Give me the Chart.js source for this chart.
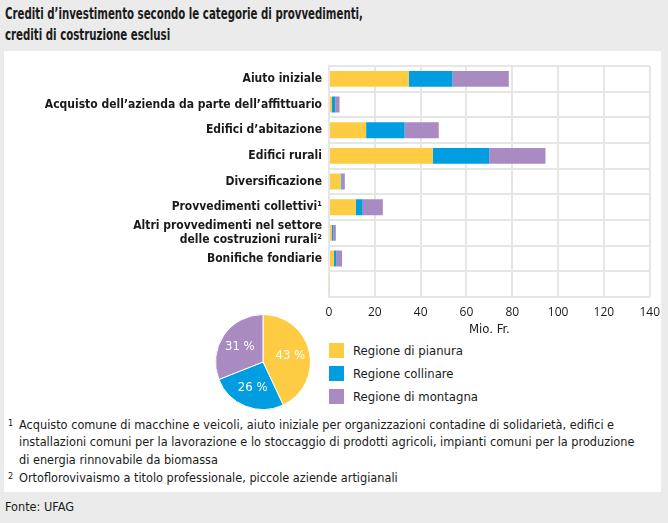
<!DOCTYPE html>
<html>
<head>
<meta charset="utf-8">
<script src="https://cdn.jsdelivr.net/npm/chart.js@4"></script>
<style>
  html, body { margin: 0; padding: 0; }
  body { width: 668px; height: 523px; background: #ebebeb; position: relative; overflow: hidden;
         font-family: "DejaVu Sans Condensed", "Liberation Sans Narrow", sans-serif; color: #1a1a1a; }
  #title { position: absolute; left: 5px; top: 3px; font-size: 16px; font-weight: bold; line-height: 21px;
           transform: scaleX(0.71); transform-origin: left top; white-space: nowrap; }
  #panel { position: absolute; left: 4px; top: 51px; width: 657px; height: 441px; background: #fff; }
  #bars { position: absolute; left: 0; top: 52px; }
  #pie { position: absolute; left: 215px; top: 314px; }
  .leg { position: absolute; left: 329px; font-size: 13px; line-height: 15px; white-space: nowrap; }
  .leg span { display: inline-block; width: 15px; height: 15px; vertical-align: top; margin-right: 9px; }
  #notes { position: absolute; left: 8px; top: 415px; width: 650px; font-size: 12.6px; line-height: 17.3px; }
  #notes div { padding-left: 11px; text-indent: -11px; }
  #notes sup { font-size: 9px; vertical-align: 3px; display: inline-block; width: 11px; text-indent: 0; }
  #source { position: absolute; left: 5px; top: 499px; font-size: 12.6px; }
</style>
</head>
<body>
<div id="title">Crediti d’investimento secondo le categorie di provvedimenti,<br>crediti di costruzione esclusi</div>
<div id="panel"></div>
<canvas id="bars" width="668" height="290"></canvas>
<canvas id="pie" width="96" height="96"></canvas>
<div class="leg" style="top:343px"><span style="background:#fdcc43"></span>Regione di pianura</div>
<div class="leg" style="top:366px"><span style="background:#009ee0"></span>Regione collinare</div>
<div class="leg" style="top:389px"><span style="background:#a98bc1"></span>Regione di montagna</div>
<div id="notes">
  <div><sup>1</sup>Acquisto comune di macchine e veicoli, aiuto iniziale per organizzazioni contadine di solidarietà, edifici e<br>installazioni comuni per la lavorazione e lo stoccaggio di prodotti agricoli, impianti comuni per la produzione<br>di energia rinnovabile da biomassa</div>
  <div><sup>2</sup>Ortoflorovivaismo a titolo professionale, piccole aziende artigianali</div>
</div>
<div id="source">Fonte: UFAG</div>
<script>
const categories = [
  "Aiuto iniziale",
  "Acquisto dell’azienda da parte dell’affittuario",
  "Edifici d’abitazione",
  "Edifici rurali",
  "Diversificazione",
  "Provvedimenti collettivi¹",
  ["Altri provvedimenti nel settore", "delle costruzioni rurali²"],
  "Bonifiche fondiarie",
  ""
];
const pianura  = [34.8, 1.3, 16.2, 45.3, 5.1, 11.7, 1.2, 2.2, 0.3];
const collinare = [19.1, 1.4, 16.8, 24.6, 0.4, 3.0, 0.6, 0.9, 0];
const montagna = [24.6, 1.9, 14.9, 24.6, 1.4, 8.8, 1.2, 2.6, 0];
const xTicks = [0, 20, 40, 60, 80, 100, 120, 140];

const regions = ["Regione di pianura", "Regione collinare", "Regione di montagna"];
const pieShares = [43, 26, 31];
const colors = ["#fdcc43", "#009ee0", "#a98bc1"];

const NARROW = "'DejaVu Sans Condensed', 'Liberation Sans Narrow', sans-serif";
Chart.defaults.color = "#1a1a1a";

new Chart(document.getElementById("bars"), {
  type: "bar",
  data: {
    labels: categories,
    datasets: [
      { label: regions[0], data: pianura, backgroundColor: colors[0] },
      { label: regions[1], data: collinare, backgroundColor: colors[1] },
      { label: regions[2], data: montagna, backgroundColor: colors[2] },
    ],
  },
  options: {
    indexAxis: "y",
    responsive: false,
    animation: false,
    devicePixelRatio: 1,
    layout: { padding: { top: 12, right: 16, left: 0, bottom: 0 } },
    categoryPercentage: 0.62,
    barPercentage: 1,
    plugins: { legend: { display: false }, tooltip: { enabled: false } },
    scales: {
      x: {
        stacked: true,
        min: 0, max: 140,
        afterBuildTicks: s => { s.ticks = xTicks.map(v => ({ value: v })); },
        afterFit: s => { s.height = 45; },
        grid: { color: "#e6e6e6", lineWidth: 2, drawTicks: false },
        border: { display: false },
        ticks: { padding: 8, font: { family: "'Open Sans', sans-serif", size: 12 }, color: "#1a1a1a" },
        title: { display: true, text: "Mio. Fr.", padding: { top: 0, bottom: 5 }, font: { family: NARROW, size: 13 } },
      },
      y: {
        stacked: true,
        afterFit: s => { s.width = 329; },
        grid: { color: "#e6e6e6", lineWidth: 2, drawTicks: false, offset: true },
        border: { color: "#e6e6e6", width: 2 },
        ticks: { autoSkip: false, padding: 7, font: { family: NARROW, size: 12, weight: "bold", lineHeight: 1.17 }, color: "#1a1a1a" },
      },
    },
  },
});

const pieLabels = {
  id: "pieLabels",
  afterDatasetsDraw(chart) {
    const { ctx } = chart;
    const meta = chart.getDatasetMeta(0);
    ctx.save();
    ctx.fillStyle = "#fff";
    ctx.font = "13px " + NARROW;
    ctx.textAlign = "center";
    ctx.textBaseline = "middle";
    meta.data.forEach((arc, i) => {
      const mid = (arc.startAngle + arc.endAngle) / 2;
      const r = arc.outerRadius * 0.59;
      ctx.fillText(pieShares[i] + " %", arc.x + Math.cos(mid) * r, arc.y + Math.sin(mid) * r);
    });
    ctx.restore();
  },
};

new Chart(document.getElementById("pie"), {
  type: "pie",
  data: {
    labels: regions,
    datasets: [{ data: pieShares, backgroundColor: colors, borderColor: "#fff", borderWidth: 1 }],
  },
  options: {
    responsive: false,
    animation: false,
    devicePixelRatio: 1,
    layout: { padding: 0 },
    plugins: { legend: { display: false }, tooltip: { enabled: false } },
  },
  plugins: [pieLabels],
});
</script>
</body>
</html>
